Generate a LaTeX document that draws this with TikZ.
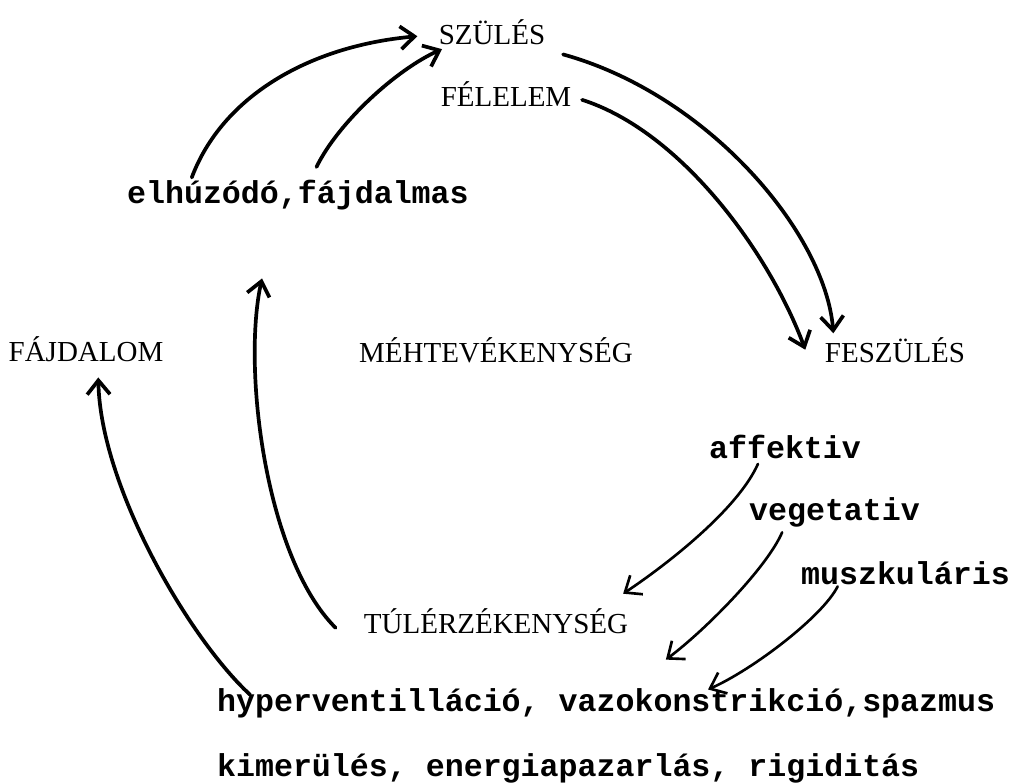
\documentclass[tikz,border=0pt]{standalone}
\usepackage{fontspec}
\setmainfont{Liberation Serif}
\setmonofont{Liberation Mono}
\usetikzlibrary{arrows.meta}

\begin{document}
\begin{tikzpicture}[x=0.02cm, y=-0.02cm,
    >={Straight Barb[length=8pt, width=13pt]},
    caps/.style={font=\fontsize{16.5}{18}\selectfont, inner sep=2pt, anchor=base},
    lower/.style={font=\ttfamily\bfseries\fontsize{18}{20}\selectfont, inner sep=1pt, anchor=base west},
    bigarrow/.style={->, line width=2.1pt, line cap=round},
    smallarrow/.style={->, line width=1.5pt, line cap=round}]
    \useasboundingbox (0,0) rectangle (1011,784);

    % upper part of the circle
    \node[caps] (szules) at (492,45) {SZÜLÉS};
    \node[caps] (felelem) at (506,107) {FÉLELEM};
    \node[lower] (elh) at (125,203) {elhúzódó,fájdalmas};

    % middle row
    \node[caps] (fajdalom) at (86,361) {FÁJDALOM};
    \node[caps] (meh) at (496,362) {MÉHTEVÉKENYSÉG};
    \node[caps] (feszules) at (895,362) {FESZÜLÉS};

    % the three kinds of tension
    \node[lower] (affektiv) at (707,458) {affektiv};
    \node[lower] (vegetativ) at (747,520) {vegetativ};
    \node[lower] (muszk) at (799,584) {muszkuláris};

    % lower part
    \node[caps] (tul) at (496,633) {TÚLÉRZÉKENYSÉG};
    \node[lower] (hyper) at (215,711) {hyperventilláció, vazokonstrikció,spazmus};
    \node[lower] (kimer) at (215,776) {kimerülés, energiapazarlás, rigiditás};

    % arrows back to the birth
    \draw[bigarrow] ([xshift=38pt]elh.north west) .. controls +(30,-80) and +(-110,10) .. ([xshift=-10pt,yshift=-2pt]szules.west);
    \draw[bigarrow] ([xshift=109pt,yshift=6pt]elh.north west) .. controls +(22,-45) and +(-45,20) .. ([xshift=4pt]szules.south west);

    % arrows to the tension
    \draw[bigarrow] ([xshift=8pt,yshift=-3pt]szules.south east) .. controls +(145,40) and +(-8,-100) .. ([xshift=7pt]feszules.north west);
    \draw[bigarrow] ([xshift=4pt,yshift=-3pt]felelem.east) .. controls +(100,32) and +(-35,-95) .. ([xshift=-9pt]feszules.west);

    % from the tension downwards
    \draw[smallarrow] ([xshift=29pt,yshift=-2pt]affektiv.south west) .. controls +(-20,45) and +(45,-30) .. ([xshift=-5pt,yshift=6pt]tul.north east);
    \draw[smallarrow] ([xshift=20pt,yshift=-2pt]vegetativ.south west) .. controls +(-15,35) and +(40,-30) .. ([xshift=34pt,yshift=15pt]hyper.north);
    \draw[smallarrow] ([xshift=22pt]muszk.south west) .. controls +(-15,30) and +(45,-20) .. ([xshift=58pt,yshift=-2pt]hyper.north);

    % back up on the left side
    \draw[bigarrow] ([xshift=-14pt,yshift=-4pt]tul.west) .. controls +(-70,-70) and +(-20,90) .. ([xshift=78pt,yshift=-38pt]elh.south west);
    \draw[bigarrow] ([xshift=20pt,yshift=-5pt]hyper.north west) .. controls +(-60,-55) and +(2,110) .. ([xshift=7pt,yshift=-7pt]fajdalom.south);
\end{tikzpicture}
\end{document}
